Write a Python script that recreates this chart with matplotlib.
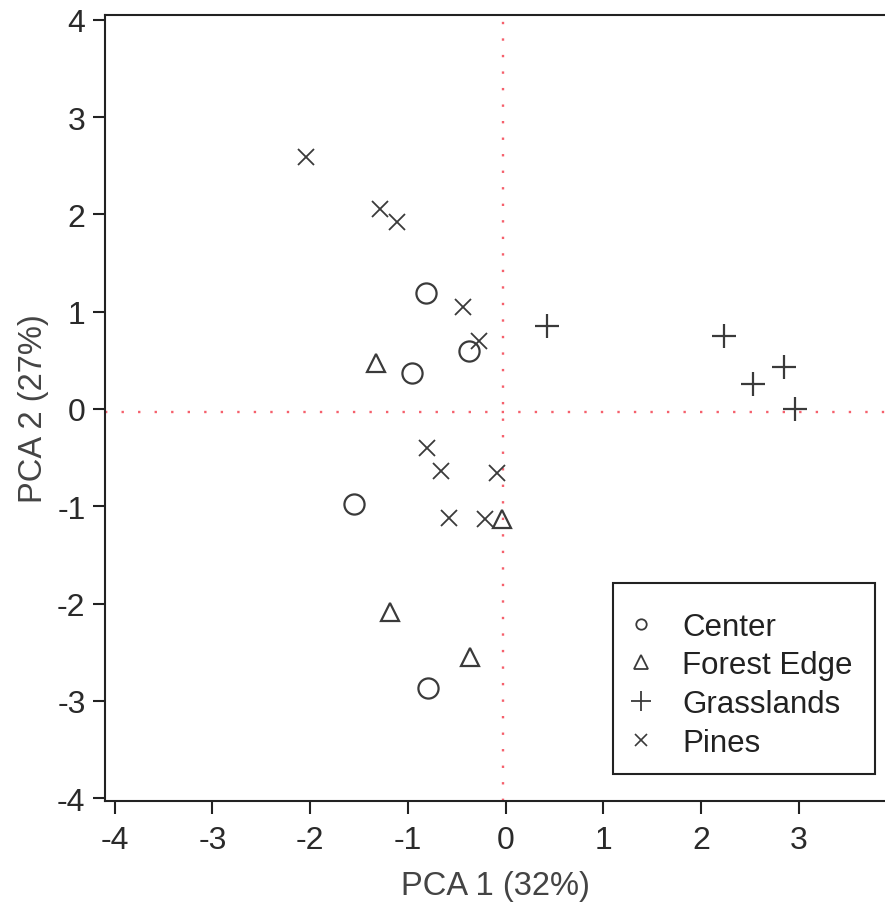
import numpy as np
import matplotlib
matplotlib.use("Agg")
from matplotlib import pyplot as plt
from matplotlib.lines import Line2D
from matplotlib.patches import Rectangle

plt.rcParams['font.family'] = ['Liberation Sans', 'DejaVu Sans']
plt.rcParams['axes.unicode_minus'] = False

# PCA scores per habitat
center_x = [-0.82, -0.38, -0.96, -1.55, -0.80]
center_y = [1.19, 0.60, 0.375, -0.98, -2.87]

edge_x = [-1.33, -0.04, -1.18, -0.37]
edge_y = [0.47, -1.13, -2.09, -2.55]

grass_x = [0.42, 2.23, 2.85, 2.53, 2.96]
grass_y = [0.85, 0.75, 0.43, 0.255, 0.0]

pines_x = [-2.04, -1.29, -1.11, -0.44, -0.27, -0.81, -0.66, -0.09, -0.58, -0.21]
pines_y = [2.59, 2.06, 1.92, 1.05, 0.70, -0.40, -0.64, -0.66, -1.12, -1.13]

groups = ['Center', 'Forest Edge', 'Grasslands', 'Pines']
ticks = [-4, -3, -2, -1, 0, 1, 2, 3, 4]
ref_x, ref_y = -0.03, -0.03

ink = '#3a3a3a'

fig = plt.figure(figsize=(8.85, 9.03), dpi=100)
ax = fig.add_axes([0.1186, 0.1118, 0.8814, 0.8705])

ax.axvline(ref_x, color='#f5606c', lw=1.7, ls=(0, (1.0, 6.0)), zorder=1)
ax.axhline(ref_y, color='#f5606c', lw=1.7, ls=(0, (1.0, 6.0)), zorder=1)

ax.plot(center_x, center_y, 'o', ms=14.5, mfc='none', mec=ink, mew=1.6, ls='none')
ax.plot(edge_x, edge_y, '^', ms=13, mfc='none', mec=ink, mew=1.6, ls='none')
ax.plot(grass_x, grass_y, '+', ms=17, mec=ink, mew=1.6, ls='none')
ax.plot(pines_x, pines_y, 'x', ms=11, mec=ink, mew=1.3, ls='none')

ax.set_xlim(-4.10, 3.88)
ax.set_ylim(-4.03, 4.05)
ax.set_xticks(ticks[:-1])
ax.set_yticks(ticks)

for side in ['left', 'bottom', 'top']:
    ax.spines[side].set_linewidth(1.5)
    ax.spines[side].set_color('#222222')
ax.spines['right'].set_visible(False)
ax.tick_params(direction='out', length=9, width=1.5, color='#222222',
               labelsize=23, labelcolor='#2a2a2a')
ax.tick_params(axis='x', pad=8)
ax.tick_params(axis='y', pad=5)

ax.set_xlabel('PCA 1 (32%)', fontsize=23.5, color='#444444', labelpad=11)
ax.set_ylabel('PCA 2 (27%)', fontsize=23.5, color='#444444', labelpad=6)

# legend: frame drawn separately so the padding can differ per side
ax.add_patch(Rectangle((0.6513, 0.0344), 0.3357, 0.2430, transform=ax.transAxes,
                       fill=False, edgecolor='#222222', lw=1.5, zorder=5))
handles = [
    Line2D([], [], marker='o', ms=7.5, mfc='none', mec=ink, mew=1.3, ls='none'),
    Line2D([], [], marker='^', ms=10.5, mfc='none', mec=ink, mew=1.3, ls='none'),
    Line2D([], [], marker='+', ms=15, mec=ink, mew=1.3, ls='none'),
    Line2D([], [], marker='x', ms=9, mec=ink, mew=1.2, ls='none'),
]
leg = ax.legend(handles, groups, loc='center left', bbox_to_anchor=(0.6713, 0.148),
                fontsize=22.5, frameon=False, borderpad=0, handletextpad=0.91,
                labelspacing=0.28, handlelength=0.8, borderaxespad=0)
for t in leg.get_texts():
    t.set_color('#222222')

fig.savefig('out.png', dpi=100)
